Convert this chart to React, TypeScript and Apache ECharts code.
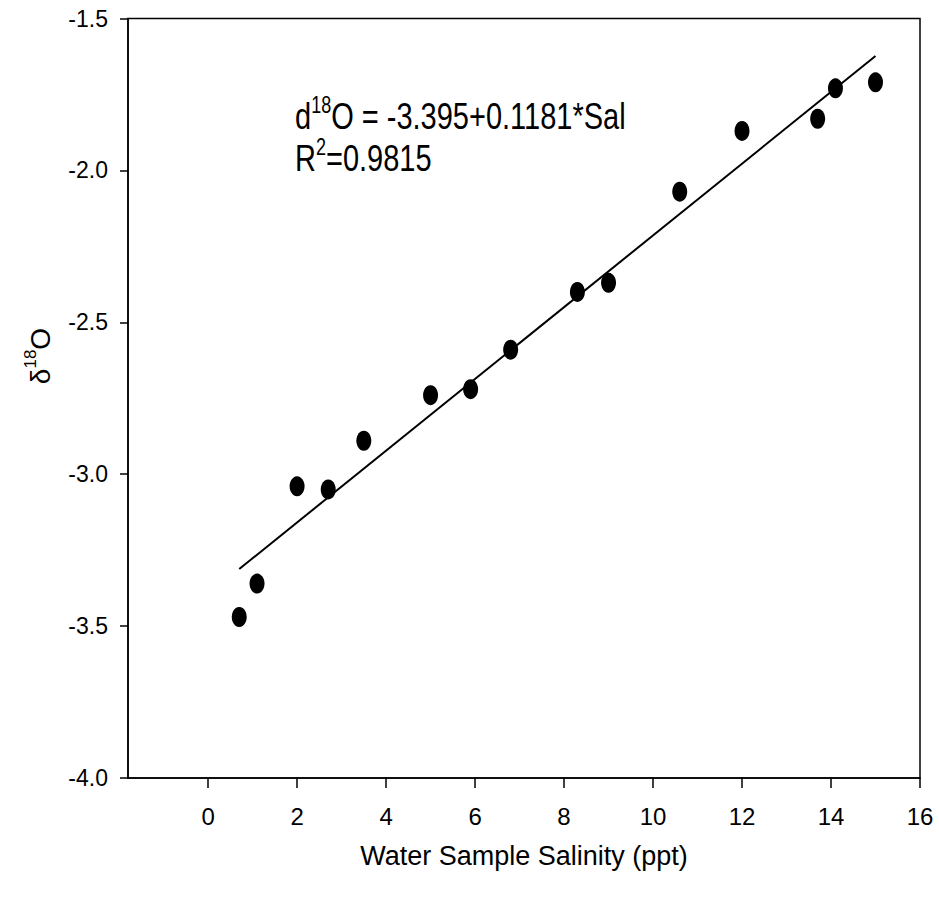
import React, { useEffect, useRef } from 'react';
import * as echarts from 'echarts';

// Data
const salinity = [0.7, 1.1, 2.0, 2.7, 3.5, 5.0, 5.9, 6.8, 8.3, 9.0, 10.6, 12.0, 13.7, 14.1, 15.0];
const d18O = [-3.47, -3.36, -3.04, -3.05, -2.89, -2.74, -2.72, -2.59, -2.40, -2.37, -2.07, -1.87, -1.83, -1.73, -1.71];
const xTickValues = [0, 2, 4, 6, 8, 10, 12, 14, 16];
const fitIntercept = -3.395;
const fitSlope = 0.1181;
const equationText = 'O = -3.395+0.1181*Sal';
const r2Text = '=0.9815';

const FONT = '"Liberation Sans", Arial, Helvetica, sans-serif';

export default function App() {
  const ref = useRef<HTMLDivElement>(null);
  useEffect(() => {
    if (!ref.current) return;
    const chart = echarts.init(ref.current, null, { renderer: 'svg' });
    const xMinData = Math.min(...salinity);
    const xMaxData = Math.max(...salinity);
    const fitLine = [
      [xMinData, fitIntercept + fitSlope * xMinData],
      [xMaxData, fitIntercept + fitSlope * xMaxData],
    ];
    chart.setOption({
      animation: false,
      backgroundColor: '#fff',
      grid: {
        left: 128,
        right: 19,
        top: 18.5,
        bottom: 128,
        show: true,
        borderColor: '#000',
        borderWidth: 1.5,
        backgroundColor: 'transparent',
      },
      xAxis: {
        type: 'value',
        min: -1.8,
        max: 16,
        name: 'Water Sample Salinity (ppt)',
        nameLocation: 'middle',
        nameGap: 64,
        nameTextStyle: { fontFamily: FONT, fontSize: 27, color: '#000' },
        axisLine: { show: true, onZero: false, lineStyle: { color: '#000', width: 1.5 } },
        axisTick: {
          show: true,
          length: 10,
          inside: false,
          customValues: xTickValues,
          lineStyle: { color: '#000', width: 1.5 },
        },
        axisLabel: {
          show: true,
          customValues: xTickValues,
          margin: 26,
          fontFamily: FONT,
          fontSize: 24,
          color: '#000',
          formatter: (v: number) => String(v),
        },
        splitLine: { show: false },
      },
      yAxis: {
        type: 'value',
        min: -4,
        max: -1.5,
        interval: 0.5,
        axisLine: { show: true, onZero: false, lineStyle: { color: '#000', width: 1.5 } },
        axisTick: { show: true, length: 8, lineStyle: { color: '#000', width: 1.5 } },
        axisLabel: {
          margin: 20,
          fontFamily: FONT,
          fontSize: 23,
          color: '#000',
          formatter: (v: number) => v.toFixed(1),
        },
        splitLine: { show: false },
      },
      series: [
        {
          type: 'line',
          data: fitLine,
          symbol: 'none',
          lineStyle: { color: '#000', width: 2 },
          silent: true,
          z: 2,
        },
        {
          type: 'scatter',
          data: salinity.map((x, i) => [x, d18O[i]]),
          symbol: 'circle',
          symbolSize: [15, 20],
          itemStyle: { color: '#000', opacity: 1 },
          z: 3,
        },
      ],
      graphic: [
        {
          type: 'text',
          x: 38,
          y: 356,
          rotation: Math.PI / 2,
          style: {
            text: '{a|δ}{s|18}{a|O}',
            align: 'center',
            verticalAlign: 'middle',
            fill: '#000',
            rich: {
              a: { fontFamily: FONT, fontSize: 28, fill: '#000', verticalAlign: 'bottom', lineHeight: 32 },
              s: { fontFamily: FONT, fontSize: 17, fill: '#000', verticalAlign: 'top', lineHeight: 32 },
            },
          },
        },
        {
          type: 'text',
          x: 295,
          y: 114,
          scaleY: 1.3,
          style: {
            text: '{a|d}{s|18}{a|' + equationText + '}',
            align: 'left',
            verticalAlign: 'middle',
            fill: '#000',
            rich: {
              a: { fontFamily: FONT, fontSize: 29, fill: '#000', verticalAlign: 'bottom', lineHeight: 32 },
              s: { fontFamily: FONT, fontSize: 18, fill: '#000', verticalAlign: 'top', lineHeight: 32 },
            },
          },
        },
        {
          type: 'text',
          x: 295,
          y: 156,
          scaleY: 1.3,
          style: {
            text: '{a|R}{s|2}{a|' + r2Text + '}',
            align: 'left',
            verticalAlign: 'middle',
            fill: '#000',
            rich: {
              a: { fontFamily: FONT, fontSize: 29, fill: '#000', verticalAlign: 'bottom', lineHeight: 32 },
              s: { fontFamily: FONT, fontSize: 18, fill: '#000', verticalAlign: 'top', lineHeight: 32 },
            },
          },
        },
      ],
    });
    return () => chart.dispose();
  }, []);
  return (
    <div
      ref={ref}
      style={{ position: 'fixed', left: 0, top: 0, width: 939, height: 906, background: '#fff' }}
    />
  );
}
